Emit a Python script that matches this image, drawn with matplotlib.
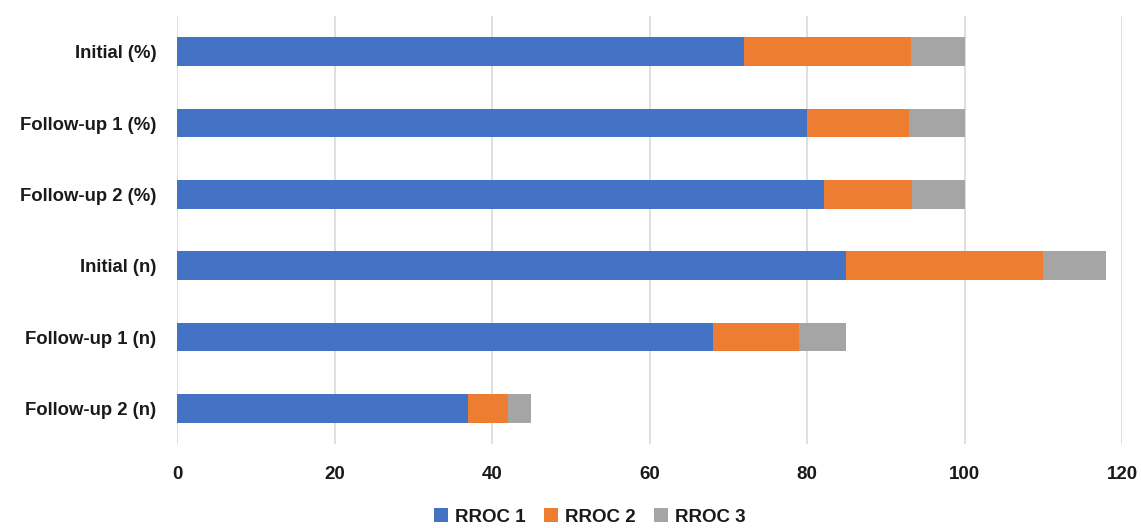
import matplotlib
matplotlib.use("Agg")
import matplotlib.pyplot as plt
import numpy as np

categories = ["Initial (%)", "Follow-up 1 (%)", "Follow-up 2 (%)",
              "Initial (n)", "Follow-up 1 (n)", "Follow-up 2 (n)"]
rroc1 = [72.0, 80.0, 82.2, 85, 68, 37]
rroc2 = [21.2, 12.9, 11.1, 25, 11, 5]
rroc3 = [6.8, 7.1, 6.7, 8, 6, 3]
series_names = ["RROC 1", "RROC 2", "RROC 3"]
colors = ["#4472C4", "#ED7D31", "#A5A5A5"]
xticks = [0, 20, 40, 60, 80, 100, 120]

plt.rcParams['font.family'] = ['Liberation Sans', 'DejaVu Sans']

fig = plt.figure(figsize=(11.41, 5.28), dpi=100)
ax = fig.add_axes([177/1141, 1-444/528, (1122-177)/1141, (444-16)/528])

y = np.arange(len(categories))
left = np.zeros(len(categories))
for vals, name, c in zip([rroc1, rroc2, rroc3], series_names, colors):
    ax.barh(y, vals, left=left, height=0.4, color=c, label=name, zorder=3)
    left = left + np.array(vals)

ax.set_ylim(len(categories) - 0.5, -0.5)
ax.set_xlim(0, 120)
ax.set_xticks(xticks)
ax.set_yticks(y)
ax.set_yticklabels(categories, fontsize=13.3, fontweight='bold', color='#1a1a1a')
ax.set_xticklabels([str(t) for t in xticks], fontsize=13.5, fontweight='bold', color='#1a1a1a')
ax.tick_params(axis='y', length=0, pad=15)
ax.tick_params(axis='x', length=0, pad=16)
ax.grid(axis='x', color='#D9D9D9', linewidth=1.2, zorder=0)
for s in ax.spines.values():
    s.set_visible(False)

handles, labels = ax.get_legend_handles_labels()
leg = fig.legend(handles, labels, loc='center', bbox_to_anchor=(590/1141, 1-517/528),
                 ncol=3, frameon=False, handlelength=0.7, handleheight=0.7,
                 handletextpad=0.4, columnspacing=1.0,
                 prop={'weight': 'bold', 'size': 13.5})
for t in leg.get_texts():
    t.set_color('#1a1a1a')

fig.savefig("out.png", dpi=100)
